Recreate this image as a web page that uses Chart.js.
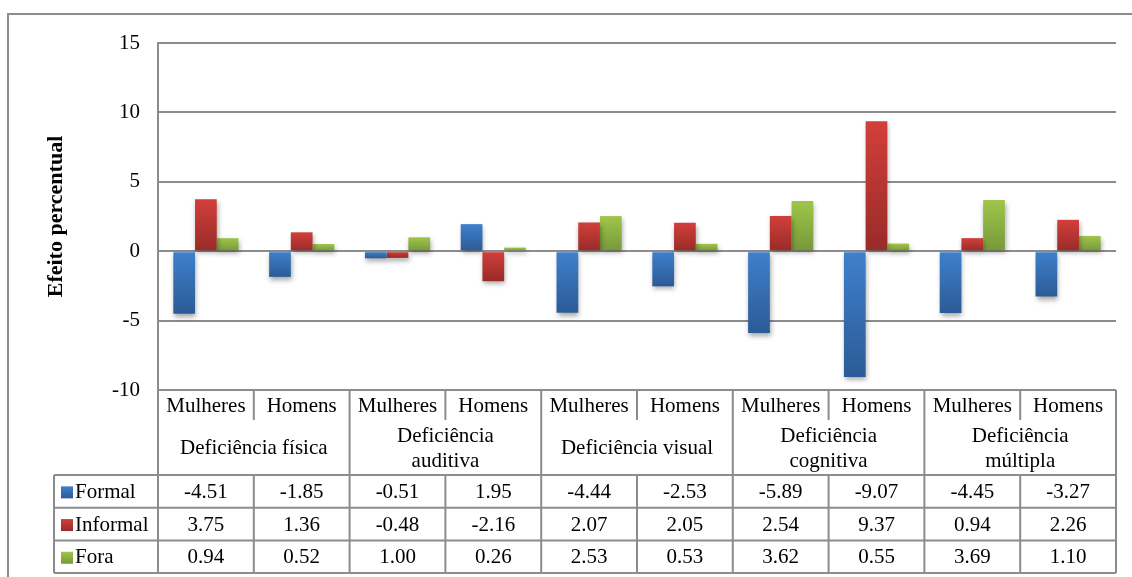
<!DOCTYPE html>
<html>
<head>
<meta charset="utf-8">
<script src="https://cdn.jsdelivr.net/npm/chart.js@4"></script>
<style>
  html, body { margin: 0; padding: 0; background: #fff; }
  #wrap { width: 1132px; height: 577px; }
</style>
</head>
<body>
<div id="wrap"><canvas id="chart" width="1132" height="577"></canvas></div>
<script>
// Données
const groups = ['Deficiência física', 'Deficiência\nauditiva', 'Deficiência visual', 'Deficiência\ncognitiva', 'Deficiência\nmúltipla'];
const sexes = ['Mulheres', 'Homens'];
const seriesNames = ['Formal', 'Informal', 'Fora'];
const formal = [-4.51, -1.85, -0.51, 1.95, -4.44, -2.53, -5.89, -9.07, -4.45, -3.27];
const informal = [3.75, 1.36, -0.48, -2.16, 2.07, 2.05, 2.54, 9.37, 0.94, 2.26];
const fora = [0.94, 0.52, 1.00, 0.26, 2.53, 0.53, 3.62, 0.55, 3.69, 1.10];
const yTicks = [-10, -5, 0, 5, 10, 15];

const FONT = "'Liberation Serif', 'Times New Roman', serif";
const LINE = '#8c8c8c';
// couleurs haut / bas du dégradé
const colors = [
    ['#3f80cc', '#2b5b96'],
    ['#d23f3b', '#982b28'],
    ['#9fc64a', '#76983a']
];

const categories = [];
groups.forEach(g => sexes.forEach(s => categories.push(s + ' - ' + g)));

function barGradient(context, pair) {
    const chart = context.chart;
    const y = chart.scales.y;
    if (!chart.chartArea || !y || context.parsed === undefined) return pair[0];
    const v = context.parsed.y;
    const top = y.getPixelForValue(Math.max(v, 0));
    const bottom = y.getPixelForValue(Math.min(v, 0));
    if (!isFinite(top) || !isFinite(bottom) || top === bottom) return pair[0];
    const g = chart.ctx.createLinearGradient(0, top, 0, bottom);
    g.addColorStop(0, pair[0]);
    g.addColorStop(1, pair[1]);
    return g;
}

// Ombre portée des barres
const shadowPlugin = {
    id: 'barShadow',
    beforeDatasetsDraw(chart) {
        const ctx = chart.ctx;
        ctx.save();
        ctx.shadowColor = 'rgba(0, 0, 0, 0.35)';
        ctx.shadowBlur = 5;
        ctx.shadowOffsetX = 1;
        ctx.shadowOffsetY = 3;
    },
    afterDatasetsDraw(chart) {
        chart.ctx.restore();
    }
};

// Tableau de données sous le graphique + cadre
const tablePlugin = {
    id: 'dataTable',
    afterDraw(chart) {
        const { ctx, chartArea: a, scales: { x } } = chart;
        const n = categories.length;
        const w = (a.right - a.left) / n;
        const y0 = a.bottom;
        const ySex = y0 + 30;
        const yData = y0 + 85;
        const rowH = 32.7;
        const yEnd = yData + rowH * 3;
        const legLeft = 54;

        ctx.save();
        // cadre extérieur
        ctx.strokeStyle = LINE;
        ctx.lineWidth = 2;
        ctx.strokeRect(8, 14, 1300, 800);

        ctx.beginPath();
        // bords verticaux
        ctx.moveTo(a.left, y0); ctx.lineTo(a.left, yEnd);
        ctx.moveTo(a.right, y0); ctx.lineTo(a.right, yEnd);
        for (let i = 1; i < n; i++) {
            const xx = a.left + i * w;
            ctx.moveTo(xx, y0);
            ctx.lineTo(xx, i % 2 === 0 ? yEnd : ySex);
            if (i % 2 === 1) { ctx.moveTo(xx, yData); ctx.lineTo(xx, yEnd); }
        }
        ctx.moveTo(legLeft, yData); ctx.lineTo(legLeft, yEnd);
        for (let r = 0; r <= 3; r++) {
            const yy = yData + r * rowH;
            ctx.moveTo(legLeft, yy); ctx.lineTo(a.right, yy);
        }
        ctx.stroke();

        ctx.fillStyle = '#000';
        ctx.font = '21px ' + FONT;
        ctx.textAlign = 'center';
        ctx.textBaseline = 'middle';
        categories.forEach((c, i) => {
            ctx.fillText(sexes[i % 2], x.getPixelForValue(i), y0 + 16);
        });
        groups.forEach((g, gi) => {
            const cx = a.left + (gi * 2 + 1) * w;
            const lines = g.split('\n');
            const lh = 25;
            const cy = (ySex + yData) / 2 + 1;
            lines.forEach((l, li) => {
                ctx.fillText(l, cx, cy + (li - (lines.length - 1) / 2) * lh);
            });
        });

        const allSeries = [formal, informal, fora];
        allSeries.forEach((vals, r) => {
            const cy = yData + r * rowH + rowH / 2 + 1;
            vals.forEach((v, i) => {
                ctx.fillText(v.toFixed(2), x.getPixelForValue(i), cy);
            });
            // clé de légende
            const kg = ctx.createLinearGradient(0, cy - 6, 0, cy + 6);
            kg.addColorStop(0, colors[r][0]);
            kg.addColorStop(1, colors[r][1]);
            ctx.fillStyle = kg;
            ctx.fillRect(61, cy - 6, 12, 12);
            ctx.fillStyle = '#000';
            ctx.textAlign = 'left';
            ctx.fillText(seriesNames[r], 75, cy);
            ctx.textAlign = 'center';
        });
        ctx.restore();
    }
};

const ctx = document.getElementById('chart').getContext('2d');
new Chart(ctx, {
    type: 'bar',
    data: {
        labels: categories,
        datasets: [formal, informal, fora].map((vals, i) => ({
            label: seriesNames[i],
            data: vals,
            backgroundColor: c => barGradient(c, colors[i]),
            borderWidth: 0,
            categoryPercentage: 0.68,
            barPercentage: 1.0
        }))
    },
    options: {
        responsive: false,
        animation: false,
        layout: { padding: { left: 0, right: 16, top: 43, bottom: 187 } },
        plugins: {
            legend: { display: false },
            title: { display: false },
            tooltip: { enabled: false }
        },
        scales: {
            x: { display: false, offset: true },
            y: {
                min: -10,
                max: 15,
                afterFit(scale) { scale.width = 158; },
                afterBuildTicks(scale) { scale.ticks = yTicks.map(v => ({ value: v })); },
                ticks: {
                    color: '#000',
                    padding: 18,
                    font: { family: FONT, size: 21 }
                },
                grid: { color: LINE, lineWidth: 2, drawTicks: false },
                border: { display: true, color: LINE, width: 2 },
                title: {
                    display: true,
                    text: 'Efeito percentual',
                    color: '#000',
                    font: { family: FONT, size: 22, weight: 'bold' },
                    padding: { top: 43, bottom: 0 }
                }
            }
        }
    },
    plugins: [shadowPlugin, tablePlugin]
});
</script>
</body>
</html>
